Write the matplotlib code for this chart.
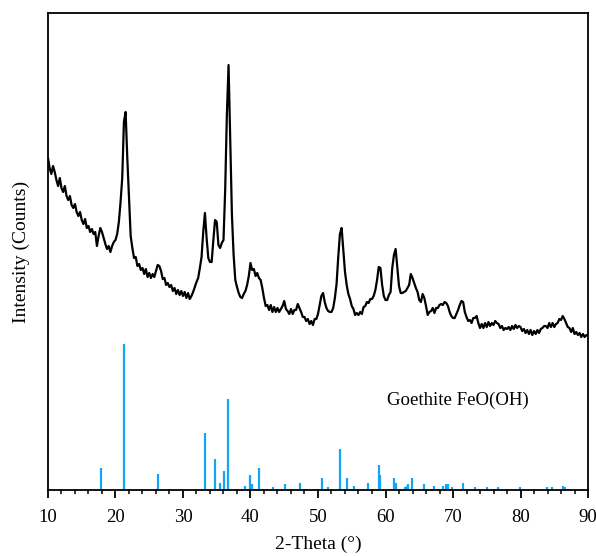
import matplotlib
matplotlib.use('Agg')
import matplotlib.pyplot as plt
import numpy as np

# measured pattern, 2-theta from 10 to 90 deg in 0.25 deg steps
two_theta_start = 10.0
two_theta_step = 0.25
intensity = [
    332, 322, 316, 324, 318, 310, 304, 312,   # 10
    302, 298, 304, 294, 290, 294, 285, 282,   # 12
    286, 278, 274, 278, 270, 266, 271, 262,   # 14
    264, 258, 261, 256, 258, 244, 254, 262,   # 16
    258, 252, 246, 241, 244, 238, 244, 248,   # 18
    250, 256, 268, 288, 312, 368, 378, 332,   # 20
    294, 254, 242, 232, 233, 224, 226, 220,   # 22
    222, 216, 221, 213, 217, 212, 216, 213,   # 24
    219, 225, 224, 219, 211, 212, 205, 207,   # 26
    203, 205, 199, 202, 196, 200, 195, 199,   # 28
    194, 198, 192, 197, 191, 194, 198, 203,   # 30
    208, 212, 222, 233, 258, 277, 252, 232,   # 32
    228, 228, 250, 270, 268, 245, 242, 247,   # 34
    250, 300, 375, 425, 350, 275, 235, 210,   # 36
    203, 197, 193, 192, 196, 199, 205, 214,   # 38
    227, 220, 221, 214, 217, 212, 210, 202,   # 40
    192, 184, 185, 180, 185, 178, 183, 178,   # 42
    182, 178, 181, 184, 189, 181, 179, 176,   # 44
    181, 176, 180, 180, 186, 182, 178, 173,   # 46
    173, 169, 171, 166, 169, 165, 171, 171,   # 48
    176, 185, 194, 197, 188, 182, 179, 178,   # 50
    178, 182, 192, 206, 233, 256, 262, 240,   # 52
    218, 205, 196, 191, 184, 181, 175, 177,   # 54
    175, 178, 176, 183, 184, 188, 187, 191,   # 56
    191, 194, 200, 210, 223, 222, 205, 194,   # 58
    190, 190, 195, 198, 222, 235, 241, 222,   # 60
    204, 197, 197, 198, 199, 202, 205, 216,   # 62
    212, 207, 202, 198, 190, 188, 196, 192,   # 64
    184, 175, 178, 179, 182, 177, 182, 182,   # 66
    185, 186, 185, 188, 187, 184, 178, 174,   # 68
    172, 172, 176, 180, 185, 189, 188, 178,   # 70
    173, 169, 170, 167, 172, 172, 174, 167,   # 72
    162, 166, 162, 167, 163, 168, 164, 167,   # 74
    165, 169, 167, 166, 162, 164, 160, 162,   # 76
    161, 163, 160, 164, 161, 165, 162, 164,   # 78
    163, 159, 161, 157, 160, 156, 160, 155,   # 80
    159, 156, 160, 157, 161, 162, 164, 164,   # 82
    162, 167, 163, 167, 163, 166, 167, 171,   # 84
    170, 174, 171, 167, 163, 162, 158, 162,   # 86
    156, 158, 155, 157, 153, 156, 153, 155,   # 88
    154,
]

# reference lines for goethite: position (deg) and relative intensity (%)
ref_pos = [17.85, 21.26, 26.35, 33.26, 34.69, 35.53, 36.02, 36.72, 39.14, 39.98,
           40.22, 41.26, 43.28, 45.06, 47.28, 48.07, 49.95, 50.64, 51.48, 53.26,
           54.25, 55.28, 57.45, 58.99, 59.19, 61.26, 61.51, 62.84, 63.14, 63.38,
           63.88, 64.10, 65.66, 67.14, 67.70, 68.47, 68.91, 69.21, 69.80, 71.53,
           73.20, 75.00, 76.62, 77.90, 79.93, 83.97, 84.71, 86.30, 86.60, 87.00,
           89.30]
ref_int = [15, 100, 11, 39, 21, 5, 13, 62, 3, 10,
           4, 15, 2, 4, 5, 1, 1, 8, 2, 28,
           8, 3, 5, 17, 10, 8, 5, 2, 3, 4,
           8, 1, 4, 3, 1, 3, 4, 4, 2, 5,
           2, 2, 2, 1, 2, 2, 2, 3, 2, 1,
           1]
ref_name = 'Goethite FeO(OH)'

plt.rcParams['font.family'] = ['Liberation Serif', 'DejaVu Serif']

two_theta = two_theta_start + two_theta_step * np.arange(len(intensity))
stick_scale = 1.46

fig = plt.figure(figsize=(5.96, 5.56), dpi=100)
ax = fig.add_axes([0.0805, 0.1187, 0.9061, 0.8579])

ax.plot(two_theta, intensity, color='black', lw=1.6)
ax.vlines(ref_pos, 0, np.array(ref_int) * stick_scale, color='#12a6f4', lw=1.6)
ax.text(70.7, 90, ref_name, ha='center', va='center', fontsize=13.6)

ax.set_xlim(10, 90)
ax.set_ylim(0, 477)
ax.set_xticks(np.arange(10, 91, 10))
ax.set_xticks(np.arange(10, 91, 2), minor=True)
ax.set_yticks([])
ax.tick_params(axis='x', which='major', direction='out', length=6, width=1.3,
               labelsize=13.5, pad=8)
ax.tick_params(axis='x', which='minor', direction='out', length=3, width=1.1)
for s in ax.spines.values():
    s.set_linewidth(1.3)

ax.set_xlabel('2-Theta (°)', fontsize=14, labelpad=7)
ax.set_ylabel('Intensity (Counts)', fontsize=14, labelpad=13)

fig.savefig('out.png', dpi=100)
